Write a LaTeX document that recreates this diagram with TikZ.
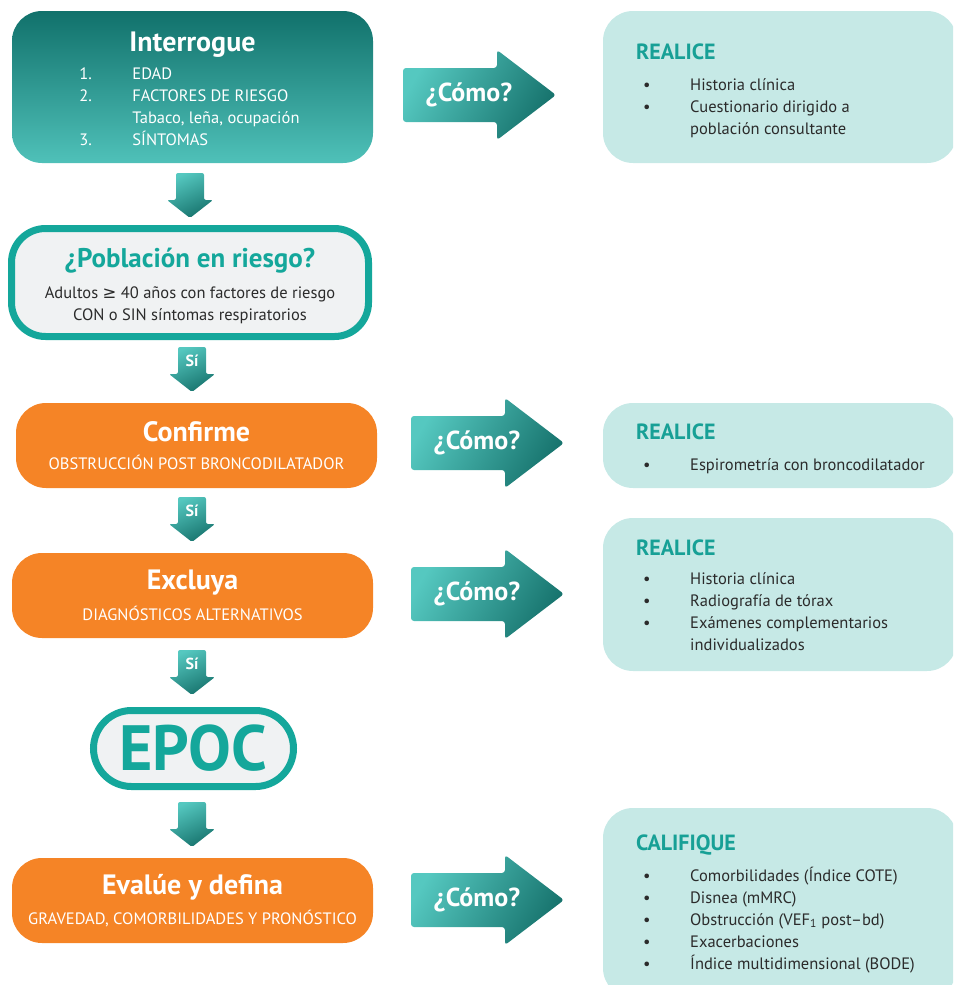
\documentclass[tikz,border=0pt]{standalone}
\usepackage{fontspec}
\setmainfont{PT Sans}
\newfontfamily\symbolfont{DejaVu Sans}
\usetikzlibrary{calc}

\definecolor{tealdark}{HTML}{11716B}
\definecolor{teallight}{HTML}{4FC1B9}
\definecolor{ringteal}{HTML}{14A79B}
\definecolor{arrlight}{HTML}{55C8C0}
\definecolor{arrdark}{HTML}{17736D}
\definecolor{orangebox}{HTML}{F58426}
\definecolor{palepanel}{HTML}{C6E9E6}
\definecolor{panelgray}{HTML}{F0F2F3}
\definecolor{textdark}{HTML}{2B2B2B}
\definecolor{titleteal}{HTML}{17A096}

\newcommand{\paneltitle}{\fontsize{22}{24}\selectfont\bfseries\color{titleteal}}
\newcommand{\panelbody}{\fontsize{16.5}{22}\selectfont\mdseries\color{textdark}}
\newcommand{\boxtitle}{\fontsize{28}{30}\selectfont\bfseries}
\newcommand{\boxsub}{\fontsize{16.5}{20}\selectfont\mdseries}

\tikzset{
  interbox/.style={top color=tealdark, bottom color=teallight, rounded corners=30pt,
    text=white, align=center, minimum width=361pt, minimum height=152pt},
  ringbox/.style={draw=ringteal, line width=7pt, fill=panelgray, align=center},
  orangenode/.style={fill=orangebox, rounded corners=30pt, text=white, align=center,
    minimum width=361pt, minimum height=85pt},
  panel/.style={fill=palepanel, rounded corners=30pt, minimum width=354pt},
  paneltxt/.style={align=left, inner sep=0pt, anchor=north west},
  arrshade/.style={top color=arrlight, bottom color=arrdark, shading angle=25, rounded corners=2pt},
  comoshade/.style={left color=arrlight, right color=arrdark, shading angle=60, rounded corners=3pt},
  sitext/.style={text=white, font=\fontsize{16}{16}\selectfont\bfseries, inner sep=0pt},
  comotext/.style={text=white, font=\fontsize{26}{26}\selectfont\bfseries, inner sep=0pt}
}

\def\downarr[#1](#2)#3{%
  \shade[arrshade, shift={(#2)}] (-14,0) -- (14,0) -- (14,27) -- (23,27) -- (0,45) -- (-23,27) -- (-14,27) -- cycle;
  \node[sitext] (#1) at ($(#2)+(0,14)$) {#3};}
\def\comoarr[#1](#2){%
  \shade[comoshade, shift={(#2)}] (0,-27) -- (94,-27) -- (94,-45) -- (153,0) -- (94,45) -- (94,27) -- (0,27) -- cycle;
  \node[comotext] (#1) at ($(#2)+(66,0)$) {¿Cómo?};}

\begin{document}
\begin{tikzpicture}[x=1pt, y=-1pt]
  \useasboundingbox (0,0) rectangle (953,985);
  \clip (0,0) rectangle (953,985);

  %% left column
  \node[interbox] (interrogue) at (192.5,87)
    {\rule{0pt}{30pt}\boxtitle Interrogue\\[6pt]
     \fontsize{16.5}{22}\selectfont\mdseries
     \begin{tabular}{@{}p{53pt}@{}l@{\hspace{6pt}}}
       1. & EDAD\\
       2. & FACTORES DE RIESGO\\
          & Tabaco, leña, ocupación\\
       3. & SÍNTOMAS
     \end{tabular}};

  \node[ringbox, rounded corners=34pt, minimum width=357pt, minimum height=108pt] (poblacion) at (190,282.5)
    {\rule{0pt}{26pt}\fontsize{27}{30}\selectfont\bfseries\color{ringteal}¿Población en riesgo?\\[13pt]
     \fontsize{16.5}{22}\selectfont\mdseries\color{textdark}Adultos {\symbolfont ≥} 40 años con factores de riesgo\\[5pt]
     \fontsize{16.5}{22}\selectfont\mdseries\color{textdark}CON o SIN síntomas respiratorios};

  \node[orangenode] (confirme) at (196.5,445.5)
    {\boxtitle Confirme\\[13pt]
     \boxsub OBSTRUCCIÓN POST BRONCODILATADOR};

  \node[orangenode] (excluya) at (192.5,595.5)
    {\boxtitle Excluya\\[10pt]
     \boxsub DIAGNÓSTICOS ALTERNATIVOS};

  \node[ringbox, rounded corners=38pt, minimum width=200pt, minimum height=76pt, inner sep=0pt,
        text=ringteal, font=\fontsize{64}{64}\selectfont\bfseries] (epoc) at (193.5,748.5) {EPOC};

  \node[orangenode] (evalue) at (192.5,900.5)
    {\boxtitle Evalúe y defina\\[9pt]
     \boxsub GRAVEDAD, COMORBILIDADES Y PRONÓSTICO};

  %% down arrows
  \downarr[flechaA](190,173){}
  \downarr[siA](192,347){Sí}
  \downarr[siB](192,497){Sí}
  \downarr[siC](192,650){Sí}
  \downarr[flechaB](192,802){}

  %% como arrows
  \comoarr[comoA](403,95)
  \comoarr[comoB](411,443)
  \comoarr[comoC](411,594)
  \comoarr[comoD](411,900)

  %% right column
  \node[panel, minimum height=152pt] (realiceA) at (780,87) {};
  \node[paneltxt] (realiceAtxt) at (636,44)
    {\paneltitle REALICE\\[14pt]
     \panelbody
     \begin{tabular}{@{\hspace{7pt}}p{47pt}@{}l@{}}
       \textbullet & Historia clínica\\
       \textbullet & Cuestionario dirigido a\\
                   & población consultante
     \end{tabular}};

  \node[panel, minimum height=85pt] (realiceB) at (780,445.5) {};
  \node[paneltxt] (realiceBtxt) at (636,424)
    {\paneltitle REALICE\\[14pt]
     \panelbody
     \begin{tabular}{@{\hspace{7pt}}p{47pt}@{}l@{}}
       \textbullet & Espirometría con broncodilatador
     \end{tabular}};

  \node[panel, minimum height=153pt] (realiceC) at (780,594.5) {};
  \node[paneltxt] (realiceCtxt) at (636,540)
    {\paneltitle REALICE\\[12pt]
     \panelbody
     \begin{tabular}{@{\hspace{7pt}}p{47pt}@{}l@{}}
       \textbullet & Historia clínica\\
       \textbullet & Radiografía de tórax\\
       \textbullet & Exámenes complementarios\\
                   & individualizados
     \end{tabular}};

  \node[panel, minimum height=190pt] (califique) at (780,903) {};
  \node[paneltxt] (califiquetxt) at (636,835)
    {\paneltitle CALIFIQUE\\[9pt]
     \panelbody
     \begin{tabular}{@{\hspace{7pt}}p{47pt}@{}l@{}}
       \textbullet & Comorbilidades (Índice COTE)\\
       \textbullet & Disnea (mMRC)\\
       \textbullet & Obstrucción (VEF\textsubscript{1} post–bd)\\
       \textbullet & Exacerbaciones\\
       \textbullet & Índice multidimensional (BODE)
     \end{tabular}};
\end{tikzpicture}
\end{document}
